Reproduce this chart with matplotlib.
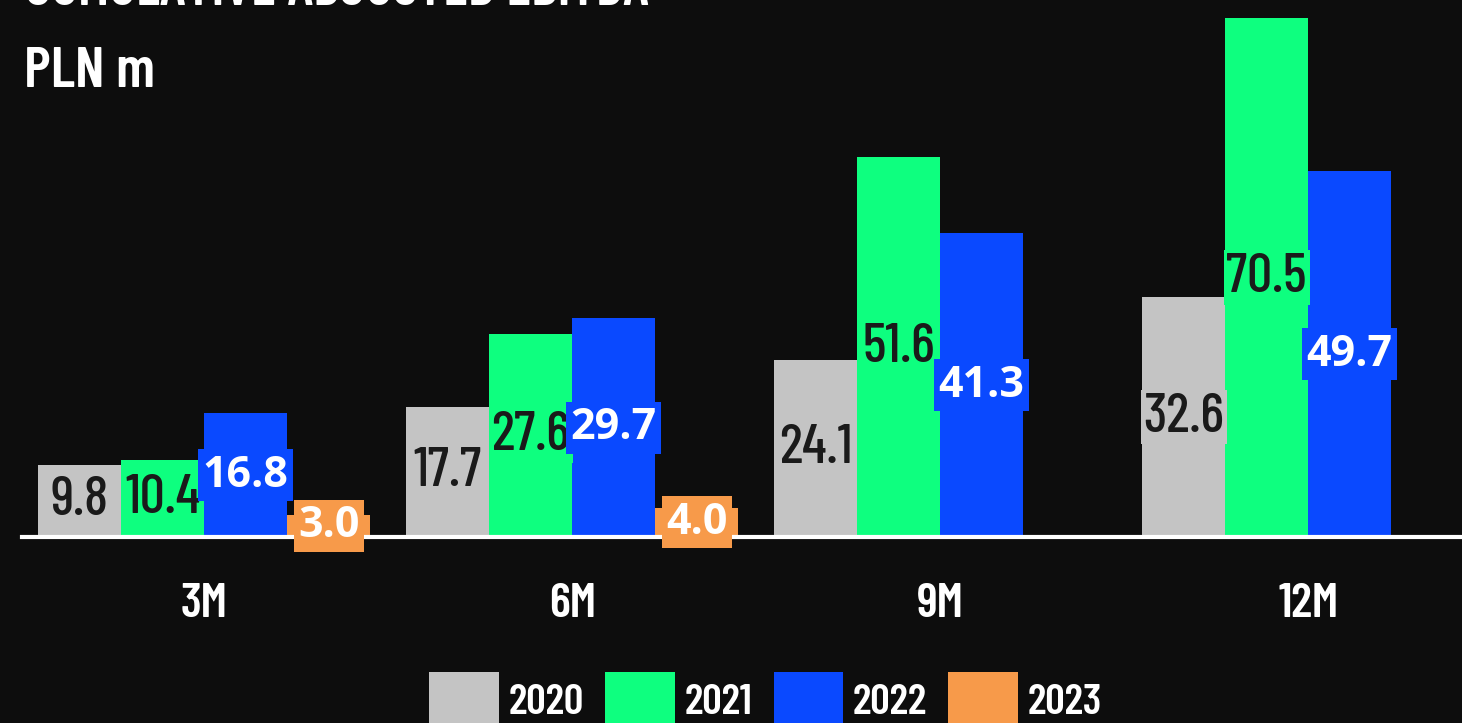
import matplotlib
matplotlib.use("Agg")
import matplotlib.pyplot as plt
import numpy as np

periods = ["3M", "6M", "9M", "12M"]
years = ["2020", "2021", "2022", "2023"]
ebitda2020 = [9.8, 17.7, 24.1, 32.6]
ebitda2021 = [10.4, 27.6, 51.6, 70.5]
ebitda2022 = [16.8, 29.7, 41.3, 49.7]
ebitda2023 = [3.0, 4.0]

bg = "#0d0d0d"
colors = ["#c4c4c4", "#0eff7f", "#0a49ff", "#f79a4a"]
textColors = ["#1a1a1a", "#1a1a1a", "white", "white"]

narrow = ["Barlow Condensed", "Roboto Condensed", "Oswald", "DejaVu Sans"]
boldWide = ["Open Sans", "DejaVu Sans"]

fig = plt.figure(figsize=(14.62, 7.23), dpi=100, facecolor=bg)
ax = fig.add_axes([22 / 1462, 186 / 723, 1 - 22 / 1462, 527 / 723])
ax.set_facecolor(bg)

w = 0.2255
offsets = [-1.5, -0.5, 0.5, 1.5]
series = [ebitda2020, ebitda2021, ebitda2022, ebitda2023]
x = np.arange(len(periods))

handles = []
for i, vals in enumerate(series):
    xs = x[:len(vals)] + offsets[i] * w
    bars = ax.bar(xs, vals, width=w, color=colors[i], label=years[i], zorder=2)
    handles.append(bars)

# value labels go on top of every bar so boxes can overlap neighbours
for i, vals in enumerate(series):
    xs = x[:len(vals)] + offsets[i] * w
    for xi, v in zip(xs, vals):
        if i < 2:
            ax.text(xi, v / 2, f"{v:.1f}", ha="center", va="center",
                    family=narrow, fontweight="medium", fontsize=40,
                    color=textColors[i], zorder=5,
                    bbox=dict(boxstyle="square,pad=0.05", fc=colors[i], ec="none"))
        else:
            ax.text(xi, v / 2, f"{v:.1f}", ha="center", va="center",
                    family=boldWide, fontweight="bold", fontsize=31,
                    color=textColors[i], zorder=6,
                    bbox=dict(boxstyle="square,pad=0.1", fc=colors[i], ec="none"))

ax.axhline(0, color="white", linewidth=3, zorder=4, clip_on=False)
ax.set_xlim(-0.495, 3.418)
ax.set_ylim(0, 71.6)
ax.set_xticks(x)
ax.set_xticklabels(periods, family=narrow, fontweight="semibold", fontsize=35, color="white")
ax.tick_params(axis="x", length=0, pad=33)
ax.set_yticks([])
for s in ax.spines.values():
    s.set_visible(False)

fig.text(25 / 1462, 1 - 5 / 723, "CUMULATIVE ADJUSTED EBITDA", va="baseline",
         family=narrow, fontweight="semibold", fontsize=41, color="white")
fig.text(24 / 1462, 1 - 87 / 723, "PLN m", va="baseline",
         family=narrow, fontweight="semibold", fontsize=42, color="white")

fig.legend(handles=handles, labels=years, loc="center", ncol=4,
           bbox_to_anchor=(0.5236, 1 - 700 / 723), frameon=False,
           prop=dict(family=narrow, weight="semibold", size=31), labelcolor="white",
           handlelength=1.62, handleheight=1.62, handletextpad=0.22, columnspacing=0.5)

fig.savefig("out.png", dpi=100, facecolor=bg)
